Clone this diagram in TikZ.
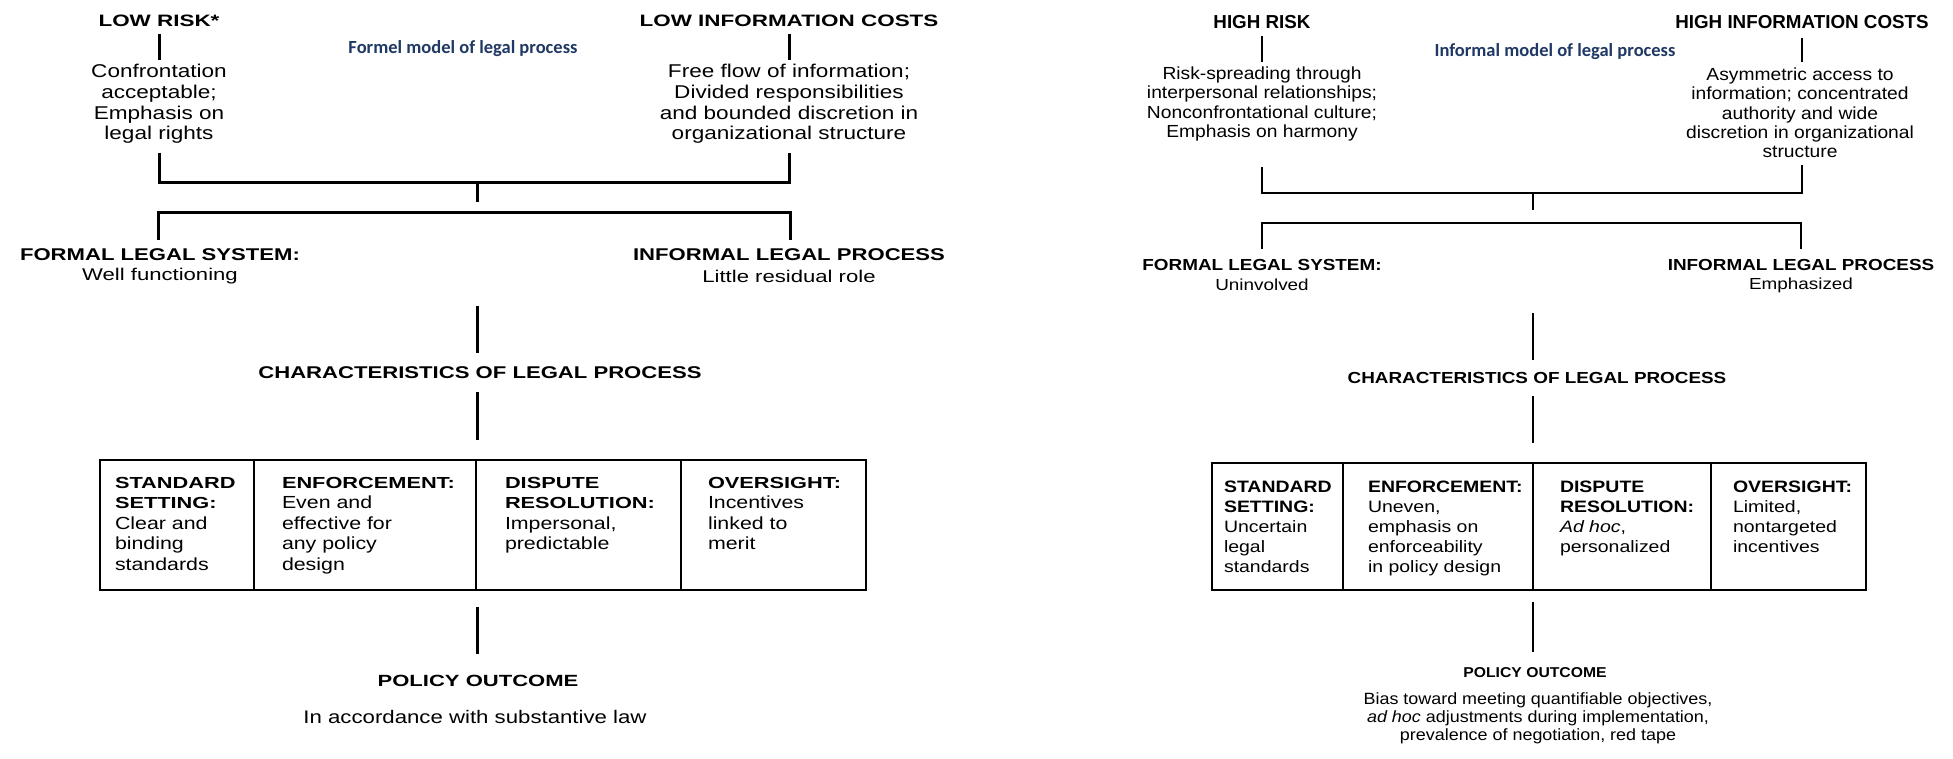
\documentclass[tikz,border=0pt]{standalone}
\usepackage{fontspec}
\setmainfont{Liberation Sans}
\newfontfamily\fLtitle[FakeStretch=1.36]{Liberation Sans}
\newfontfamily\fLtext[FakeStretch=1.22]{Liberation Sans}
\newfontfamily\fLcond[FakeStretch=1.3]{Liberation Sans}
\newfontfamily\fRtitle{Liberation Sans}
\newfontfamily\fRtext[FakeStretch=1.1]{Liberation Sans}
\newfontfamily\fRcond[FakeStretch=1.18]{Liberation Sans}
\newfontfamily\fCal{Carlito}
\definecolor{navy}{RGB}{31,56,100}
\tikzset{
  every node/.style={inner sep=0pt, outer sep=0pt},
  Ltitle/.style={font=\fLtitle\bfseries\fontsize{16.5}{20}\selectfont},
  Ltext/.style={font=\fLtext\fontsize{18.5}{20.7}\selectfont, align=center},
  Lcondb/.style={font=\fLcond\bfseries\fontsize{17}{20}\selectfont},
  Lcond/.style={font=\fLcond\fontsize{17}{20}\selectfont},
  Rtitle/.style={font=\fRtitle\bfseries\fontsize{18.8}{20}\selectfont},
  Rtext/.style={font=\fRtext\fontsize{17.5}{19.3}\selectfont, align=center},
  Rcondb/.style={font=\fRcond\bfseries\fontsize{16}{20}\selectfont},
  Rcond/.style={font=\fRcond\fontsize{16}{20}\selectfont},
  bluetitle/.style={font=\fCal\bfseries\fontsize{18.5}{20}\selectfont, text=navy},
  Lline/.style={line width=3pt},
  Rline/.style={line width=2pt},
  Lbox/.style={draw, line width=2.5pt, anchor=north west, minimum height=130pt},
  Rbox/.style={draw, line width=2pt, anchor=north west, minimum height=127pt},
  Lcell/.style={anchor=north west, align=left, font=\fLtext\fontsize{17.5}{20.5}\selectfont},
  Rcell/.style={anchor=north west, align=left, font=\fRcond\fontsize{16.5}{20}\selectfont},
}
\newcommand{\myLhead}[1]{{\fLtitle\bfseries\fontsize{16}{20.5}\selectfont #1}}
\newcommand{\myRhead}[1]{{\bfseries #1}}
\begin{document}
\begin{tikzpicture}[x=1pt,y=-1pt]
\useasboundingbox (0,0) rectangle (1953,759);

% ================= LEFT: formal model =================
\node[Ltitle] (lowrisk) at (159,21) {LOW RISK*};
\node[Ltitle] (lowinfo) at (789,21) {LOW INFORMATION COSTS};
\node[bluetitle] (formel) at (463,49) {Formel model of legal process};
\node[Ltext] (lrtext) at (159,104) {Confrontation\\acceptable;\\Emphasis on\\legal rights};
\node[Ltext] (litext) at (789,104) {Free flow of information;\\Divided responsibilities\\and bounded discretion in\\organizational structure};

\coordinate (a1) at (159,34);  \coordinate (a2) at (159,60);
\coordinate (b1) at (789,34);  \coordinate (b2) at (789,60);
\coordinate (c1) at (159,153); \coordinate (c2) at (159,183);
\coordinate (c3) at (789,183); \coordinate (c4) at (789,153);
\coordinate (d1) at (477,183); \coordinate (d2) at (477,202);
\coordinate (e1) at (158,240); \coordinate (e2) at (158,213);
\coordinate (e3) at (790,213); \coordinate (e4) at (790,240);
\coordinate (f1) at (477,306); \coordinate (f2) at (477,353);
\coordinate (g1) at (477,392); \coordinate (g2) at (477,440);
\coordinate (h1) at (477,607); \coordinate (h2) at (477,654);

\draw[Lline] (a1) -- (a2);
\draw[Lline] (b1) -- (b2);
\draw[Lline] (c1) -- (c2) -- (c3) -- (c4);
\draw[Lline] (d1) -- (d2);
\draw[Lline] (e1) -- (e2) -- (e3) -- (e4);
\draw[Lline] (f1) -- (f2);
\draw[Lline] (g1) -- (g2);
\draw[Lline] (h1) -- (h2);

\node[Lcondb] (lformal) at (160,255) {FORMAL LEGAL SYSTEM:};
\node[Lcond] (lwell) at (160,276) {Well functioning};
\node[Lcondb] (linformal) at (789,255) {INFORMAL LEGAL PROCESS};
\node[Lcond] (llittle) at (789,276) {Little residual role};
\node[Lcondb] (lchar) at (480,373) {CHARACTERISTICS OF LEGAL PROCESS};

\node[Lbox, minimum width=154pt] (lc1) at (100,460) {};
\node[Lbox, minimum width=222pt] (lc2) at (254,460) {};
\node[Lbox, minimum width=205pt] (lc3) at (476,460) {};
\node[Lbox, minimum width=185pt] (lc4) at (681,460) {};
\node[Lcell] (lt1) at (115,477) {\myLhead{STANDARD}\\\myLhead{SETTING:}\\Clear and\\binding\\standards};
\node[Lcell] (lt2) at (282,477) {\myLhead{ENFORCEMENT:}\\Even and\\effective for\\any policy\\design};
\node[Lcell] (lt3) at (505,477) {\myLhead{DISPUTE}\\\myLhead{RESOLUTION:}\\Impersonal,\\predictable};
\node[Lcell] (lt4) at (708,477) {\myLhead{OVERSIGHT:}\\Incentives\\linked to\\merit};

\node[Ltitle, font=\fLtitle\bfseries\fontsize{16.2}{20}\selectfont] (lpolicy) at (478,681) {POLICY OUTCOME};
\node[Ltext, font=\fLtext\fontsize{18.2}{20}\selectfont] (laccord) at (475,717) {In accordance with substantive law};

% ================= RIGHT: informal model =================
\node[Rtitle] (highrisk) at (1262,22) {HIGH RISK};
\node[Rtitle] (highinfo) at (1802,22) {HIGH INFORMATION COSTS};
\node[bluetitle] (informal) at (1555,52) {Informal model of legal process};
\node[Rtext] (rstext) at (1262,104) {Risk-spreading through\\interpersonal relationships;\\Nonconfrontational culture;\\Emphasis on harmony};
\node[Rtext] (astext) at (1800,113) {Asymmetric access to\\information; concentrated\\authority and wide\\discretion in organizational\\structure};

\coordinate (p1) at (1262,36);  \coordinate (p2) at (1262,62);
\coordinate (q1) at (1802,38);  \coordinate (q2) at (1802,62);
\coordinate (r1) at (1262,167); \coordinate (r2) at (1262,193);
\coordinate (r3) at (1802,193); \coordinate (r4) at (1802,165);
\coordinate (s1) at (1533,193); \coordinate (s2) at (1533,210);
\coordinate (t1) at (1262,249); \coordinate (t2) at (1262,223);
\coordinate (t3) at (1801,223); \coordinate (t4) at (1801,249);
\coordinate (u1) at (1533,313); \coordinate (u2) at (1533,360);
\coordinate (v1) at (1533,396); \coordinate (v2) at (1533,443);
\coordinate (w1) at (1533,602); \coordinate (w2) at (1533,652);

\draw[Rline] (p1) -- (p2);
\draw[Rline] (q1) -- (q2);
\draw[Rline] (r1) -- (r2) -- (r3) -- (r4);
\draw[Rline] (s1) -- (s2);
\draw[Rline] (t1) -- (t2) -- (t3) -- (t4);
\draw[Rline] (u1) -- (u2);
\draw[Rline] (v1) -- (v2);
\draw[Rline] (w1) -- (w2);

\node[Rcondb] (rformal) at (1262,265) {FORMAL LEGAL SYSTEM:};
\node[Rcond] (runinv) at (1262,285) {Uninvolved};
\node[Rcondb] (rinformal) at (1801,265) {INFORMAL LEGAL PROCESS};
\node[Rcond] (remph) at (1801,285) {Emphasized};
\node[Rcondb] (rchar) at (1537,378) {CHARACTERISTICS OF LEGAL PROCESS};

\node[Rbox, minimum width=131pt] (rc1) at (1212,463) {};
\node[Rbox, minimum width=190pt] (rc2) at (1343,463) {};
\node[Rbox, minimum width=178pt] (rc3) at (1533,463) {};
\node[Rbox, minimum width=155pt] (rc4) at (1711,463) {};
\node[Rcell] (rt1) at (1224,481) {\myRhead{STANDARD}\\\myRhead{SETTING:}\\Uncertain\\legal\\standards};
\node[Rcell] (rt2) at (1368,481) {\myRhead{ENFORCEMENT:}\\Uneven,\\emphasis on\\enforceability\\in policy design};
\node[Rcell] (rt3) at (1560,481) {\myRhead{DISPUTE}\\\myRhead{RESOLUTION:}\\\textit{Ad hoc},\\personalized};
\node[Rcell] (rt4) at (1733,481) {\myRhead{OVERSIGHT:}\\Limited,\\nontargeted\\incentives};

\node[font=\fRtext\bfseries\fontsize{14.3}{18}\selectfont] (rpolicy) at (1535,673) {POLICY OUTCOME};
\node[align=center, font=\fRtext\fontsize{16.3}{17.8}\selectfont] (rbias) at (1538,718) {Bias toward meeting quantifiable objectives,\\\textit{ad hoc} adjustments during implementation,\\prevalence of negotiation, red tape};
\end{tikzpicture}
\end{document}
